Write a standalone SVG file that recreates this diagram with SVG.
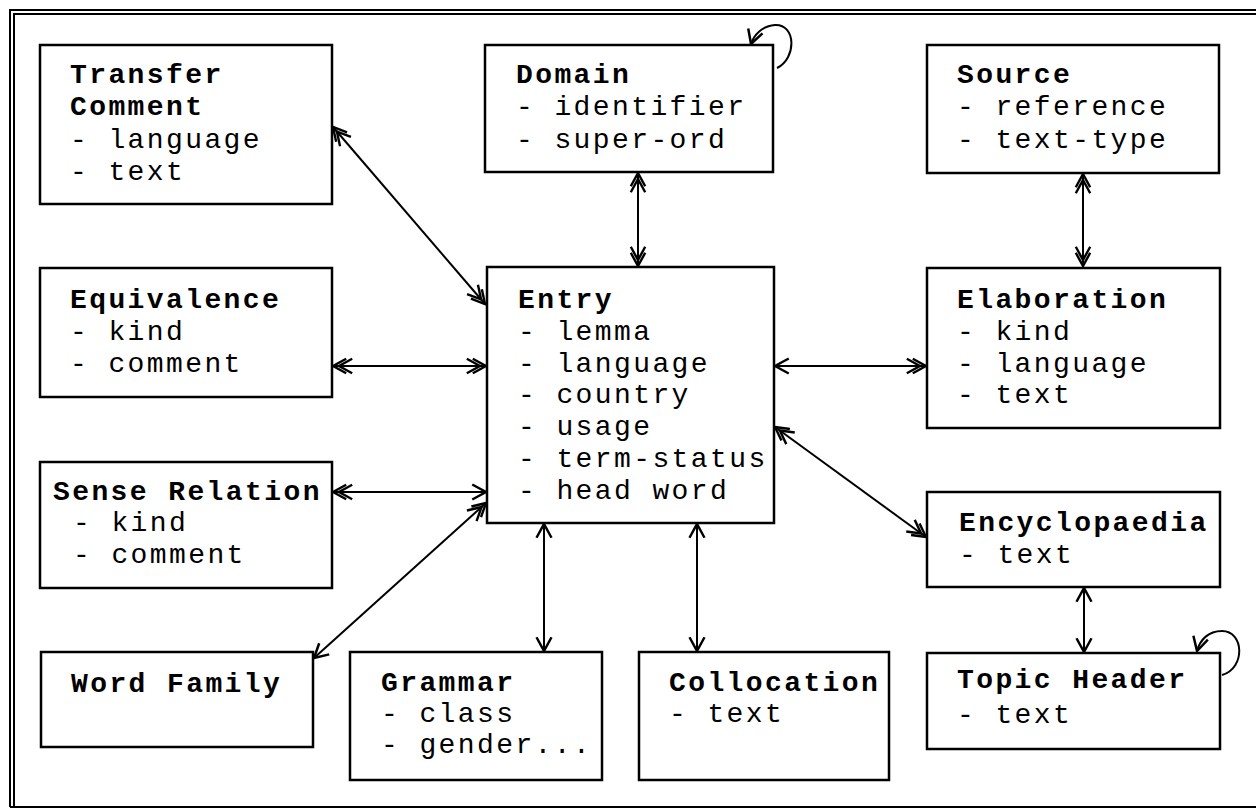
<svg xmlns="http://www.w3.org/2000/svg" width="1256" height="809" viewBox="0 0 1256 809">
<style>
.box{fill:#fff;stroke:#000;stroke-width:2.5}
.t{font-family:"Liberation Mono","Courier New",monospace;font-size:28px;letter-spacing:2.4px;fill:#000}
.b{font-weight:bold}
.c{fill:none;stroke:#000;stroke-width:2}
.frame{fill:none;stroke:#000;stroke-width:2}
</style>
<defs>
<marker id="s" markerUnits="userSpaceOnUse" markerWidth="20" markerHeight="20" viewBox="-14 -8 16 16" refX="0" refY="0" orient="auto-start-reverse">
<path d="M-11,-6 L0,0 L-11,6" fill="none" stroke="#000" stroke-width="2"/>
</marker>
<marker id="d" markerUnits="userSpaceOnUse" markerWidth="24" markerHeight="20" viewBox="-18 -8 20 16" refX="0" refY="0" orient="auto-start-reverse">
<path d="M-11,-6 L0,0 L-11,6 M-16,-6 L-5,0 L-16,6" fill="none" stroke="#000" stroke-width="2"/>
</marker>
</defs>
<rect width="1256" height="809" fill="#fff"/>
<g id="frame">
<path class="frame" d="M10,807 L10,10 L1256,10 M14,807 L14,14 L1256,14 M10,807 L1256,807"/>
</g>
<g id="connectors">
<line class="c" x1="333" y1="127" x2="485" y2="304" marker-start="url(#d)" marker-end="url(#d)"/>
<line class="c" x1="638" y1="173" x2="638" y2="266" marker-start="url(#d)" marker-end="url(#d)"/>
<line class="c" x1="1083" y1="174" x2="1083" y2="266" marker-start="url(#d)" marker-end="url(#d)"/>
<line class="c" x1="333" y1="366" x2="486" y2="366" marker-start="url(#d)" marker-end="url(#d)"/>
<line class="c" x1="775" y1="366" x2="926" y2="366" marker-start="url(#s)" marker-end="url(#d)"/>
<line class="c" x1="333" y1="492" x2="486" y2="492" marker-start="url(#d)" marker-end="url(#s)"/>
<line class="c" x1="314" y1="658" x2="486" y2="503" marker-start="url(#s)" marker-end="url(#d)"/>
<line class="c" x1="775" y1="427" x2="926" y2="537" marker-start="url(#d)" marker-end="url(#d)"/>
<line class="c" x1="544" y1="524" x2="544" y2="651" marker-start="url(#s)" marker-end="url(#s)"/>
<line class="c" x1="697" y1="524" x2="697" y2="651" marker-start="url(#s)" marker-end="url(#s)"/>
<line class="c" x1="1084" y1="588" x2="1084" y2="652" marker-start="url(#s)" marker-end="url(#s)"/>
<path class="c" d="M777,68 C797,58 796,24 775,25 C762,26 754,35 751,44" marker-end="url(#s)"/>
<path class="c" d="M1222,675 C1246,668 1244,631 1222,631 C1208,631 1200,640 1197,651" marker-end="url(#s)"/>
</g>
<g id="transfer">
<rect class="box" x="40" y="45" width="292" height="159"/>
<text class="t b" x="70" y="83">Transfer</text>
<text class="t b" x="70" y="115">Comment</text>
<text class="t" x="70" y="148">- language</text>
<text class="t" x="70" y="180">- text</text>
</g>
<g id="domain">
<rect class="box" x="485" y="45" width="288" height="127"/>
<text class="t b" x="516" y="83">Domain</text>
<text class="t" x="516" y="115">- identifier</text>
<text class="t" x="516" y="148">- super-ord</text>
</g>
<g id="source">
<rect class="box" x="927" y="45" width="292" height="128"/>
<text class="t b" x="957" y="83">Source</text>
<text class="t" x="957" y="115">- reference</text>
<text class="t" x="957" y="148">- text-type</text>
</g>
<g id="equivalence">
<rect class="box" x="40" y="268" width="292" height="129"/>
<text class="t b" x="70" y="308">Equivalence</text>
<text class="t" x="70" y="340">- kind</text>
<text class="t" x="70" y="372">- comment</text>
</g>
<g id="entry">
<rect class="box" x="487" y="267" width="287" height="256"/>
<text class="t b" x="518" y="308">Entry</text>
<text class="t" x="518" y="340">- lemma</text>
<text class="t" x="518" y="372">- language</text>
<text class="t" x="518" y="403">- country</text>
<text class="t" x="518" y="435">- usage</text>
<text class="t" x="518" y="467">- term-status</text>
<text class="t" x="518" y="499">- head word</text>
</g>
<g id="elaboration">
<rect class="box" x="927" y="268" width="293" height="160"/>
<text class="t b" x="957" y="308">Elaboration</text>
<text class="t" x="957" y="340">- kind</text>
<text class="t" x="957" y="372">- language</text>
<text class="t" x="957" y="403">- text</text>
</g>
<g id="sense">
<rect class="box" x="40" y="462" width="292" height="126"/>
<text class="t b" x="53" y="500">Sense Relation</text>
<text class="t" x="73" y="531">- kind</text>
<text class="t" x="73" y="563">- comment</text>
</g>
<g id="encyclopaedia">
<rect class="box" x="927" y="492" width="293" height="95"/>
<text class="t b" x="959" y="531">Encyclopaedia</text>
<text class="t" x="959" y="563">- text</text>
</g>
<g id="wordfamily">
<rect class="box" x="41" y="652" width="272" height="95"/>
<text class="t b" x="71" y="692">Word Family</text>
</g>
<g id="grammar">
<rect class="box" x="350" y="652" width="252" height="128"/>
<text class="t b" x="381" y="691">Grammar</text>
<text class="t" x="381" y="722">- class</text>
<text class="t" x="381" y="753">- gender...</text>
</g>
<g id="collocation">
<rect class="box" x="639" y="652" width="250" height="128"/>
<text class="t b" x="669" y="691">Collocation</text>
<text class="t" x="669" y="722">- text</text>
</g>
<g id="topicheader">
<rect class="box" x="927" y="653" width="293" height="96"/>
<text class="t b" x="957" y="688">Topic Header</text>
<text class="t" x="957" y="723">- text</text>
</g>
</svg>
